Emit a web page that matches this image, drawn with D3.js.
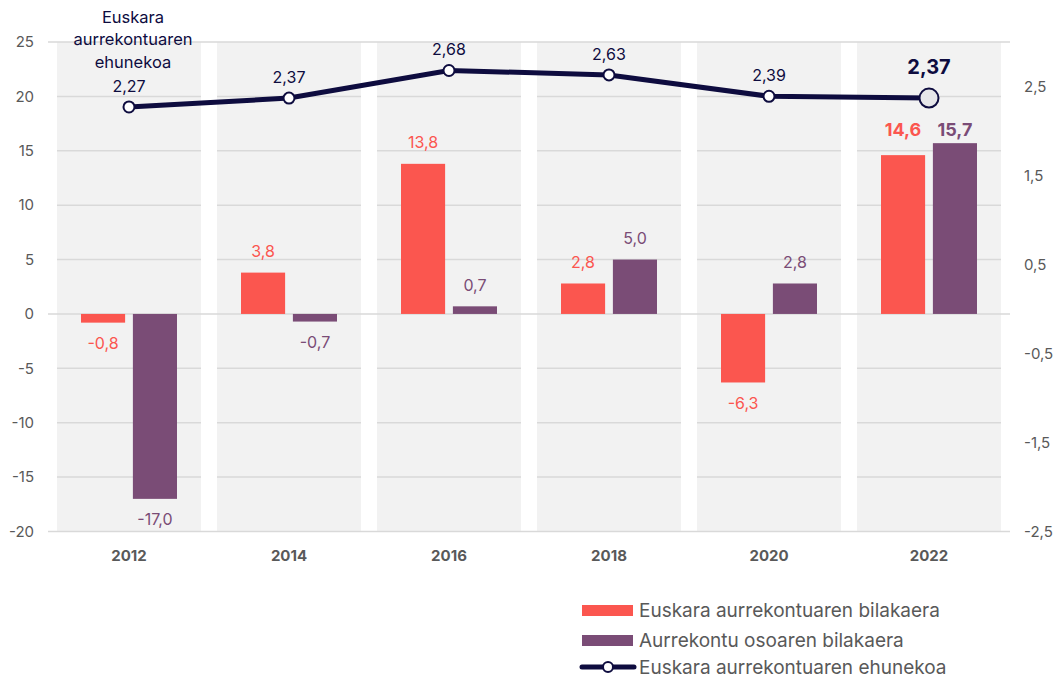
<html>
<head>
<meta charset="utf-8">
<title>Euskara aurrekontua</title>
<script src="https://cdn.jsdelivr.net/npm/d3@7"></script>
<style>
  body { margin: 0; background: #fff; }
  text { font-family: "Inter", "Noto Sans", sans-serif; }
</style>
</head>
<body>
<svg id="chart" width="1056" height="679"></svg>
<script>

// data
var years = ["2012", "2014", "2016", "2018", "2020", "2022"]
var euskaraGrowth = [-0.8, 3.8, 13.8, 2.8, -6.3, 14.6]
var totalGrowth = [-17.0, -0.7, 0.7, 5.0, 2.8, 15.7]
var euskaraShare = [2.27, 2.37, 2.68, 2.63, 2.39, 2.37]
var leftTicks = [25, 20, 15, 10, 5, 0, -5, -10, -15, -20]
var rightTicks = [2.5, 1.5, 0.5, -0.5, -1.5, -2.5]
var seriesNames = ["Euskara aurrekontuaren bilakaera", "Aurrekontu osoaren bilakaera", "Euskara aurrekontuaren ehunekoa"]
var noteLines = ["Euskara", "aurrekontuaren", "ehunekoa"]

var red = "#fb564f", purple = "#7a4c76", navy = "#0e0c3f", grey = "#595959"

var svg = d3.select("#chart")
var fmt = function (v, d) { return v.toFixed(d).replace(".", ",") }

// scales
var x = d3.scaleBand().domain(years).range([49, 1009]).paddingInner(0.1).paddingOuter(0.05)
var sub = d3.scaleBand().domain(["eus", "tot"]).range([24, 120]).paddingInner(0.15)
var y = d3.scaleLinear().domain([-20, 25]).range([531.5, 42])
var y2 = d3.scaleLinear().domain([-2.5, 3]).range([531.5, 42])

// grey column bands
svg.append("g").selectAll("rect").data(years).enter().append("rect")
  .attr("x", function (d) { return x(d) })
  .attr("y", y(25))
  .attr("width", x.bandwidth())
  .attr("height", y(-20) - y(25))
  .attr("fill", "#f2f2f2")

// gridlines inside bands, full lines for 25, 0, -20
var grid = svg.append("g")
leftTicks.forEach(function (t) {
  if (t === 25 || t === 0 || t === -20) {
    grid.append("line").attr("x1", 48).attr("x2", 1010)
      .attr("y1", y(t)).attr("y2", y(t))
      .attr("stroke", "#d9d9d9").attr("stroke-width", 1.5)
  } else {
    years.forEach(function (yr) {
      grid.append("line").attr("x1", x(yr)).attr("x2", x(yr) + x.bandwidth())
        .attr("y1", y(t)).attr("y2", y(t))
        .attr("stroke", "#d9d9d9").attr("stroke-width", 1.5)
    })
  }
})

// left axis
var yAxis = d3.axisLeft(y).tickValues(leftTicks).tickSize(0).tickPadding(0)
  .tickFormat(function (d) { return d })
svg.append("g").attr("transform", "translate(34,0)").call(yAxis)
  .call(function (g) { g.select(".domain").remove() })
  .selectAll("text").attr("fill", grey).attr("font-size", 15)

// right axis
var y2Axis = d3.axisRight(y2).tickValues(rightTicks).tickSize(0).tickPadding(0)
  .tickFormat(function (d) { return fmt(d, 1) })
svg.append("g").attr("transform", "translate(1024,0)").call(y2Axis)
  .call(function (g) { g.select(".domain").remove() })
  .selectAll("text").attr("fill", grey).attr("font-size", 15)

// x axis
var xAxis = d3.axisBottom(x).tickSize(0).tickPadding(0)
svg.append("g").attr("transform", "translate(0,550)").call(xAxis)
  .call(function (g) { g.select(".domain").remove() })
  .selectAll("text").attr("fill", grey).attr("font-size", 15).attr("font-weight", "bold")

// bars
var series = [
  { key: "eus", values: euskaraGrowth, color: red },
  { key: "tot", values: totalGrowth, color: purple }
]
series.forEach(function (s) {
  var g = svg.append("g")
  g.selectAll("rect").data(s.values).enter().append("rect")
    .attr("x", function (d, i) { return x(years[i]) + sub(s.key) })
    .attr("y", function (d) { return y(Math.max(0, d)) })
    .attr("width", sub.bandwidth())
    .attr("height", function (d) { return Math.abs(y(d) - y(0)) })
    .attr("fill", s.color)
  g.selectAll("text").data(s.values).enter().append("text")
    .attr("x", function (d, i) { return x(years[i]) + sub(s.key) + sub.bandwidth() / 2 })
    .attr("y", function (d, i) {
      if (i === years.length - 1) return 130
      return d >= 0 ? y(d) - 21 : y(d) + 21
    })
    .attr("dy", "0.35em")
    .attr("text-anchor", "middle")
    .attr("fill", s.color)
    .attr("font-size", function (d, i) { return i === years.length - 1 ? 18 : 16 })
    .attr("font-weight", function (d, i) { return i === years.length - 1 ? "bold" : "normal" })
    .text(function (d) { return fmt(d, 1) })
})

// share line
var cx = function (i) { return x(years[i]) + x.bandwidth() / 2 }
var line = d3.line().x(function (d, i) { return cx(i) }).y(function (d) { return y2(d) })
svg.append("path").datum(euskaraShare)
  .attr("d", line).attr("fill", "none").attr("stroke", navy).attr("stroke-width", 5)

var last = euskaraShare.length - 1
svg.append("g").selectAll("circle").data(euskaraShare).enter().append("circle")
  .attr("cx", function (d, i) { return cx(i) })
  .attr("cy", function (d) { return y2(d) })
  .attr("r", function (d, i) { return i === last ? 9.5 : 5.5 })
  .attr("fill", function (d, i) { return i === last ? "#e6e6e9" : "#fff" })
  .attr("stroke", navy).attr("stroke-width", 2)

svg.append("g").selectAll("text").data(euskaraShare).enter().append("text")
  .attr("x", function (d, i) { return cx(i) })
  .attr("y", function (d, i) { return y2(d) - (i === last ? 31 : 21) })
  .attr("dy", "0.35em")
  .attr("text-anchor", "middle")
  .attr("fill", navy)
  .attr("font-size", function (d, i) { return i === last ? 20 : 16 })
  .attr("font-weight", function (d, i) { return i === last ? "bold" : "normal" })
  .text(function (d) { return fmt(d, 2) })

// note over the first column
svg.append("g").selectAll("text").data(noteLines).enter().append("text")
  .attr("x", cx(0) + 4)
  .attr("y", function (d, i) { return 17 + i * 22.5 })
  .attr("dy", "0.35em")
  .attr("text-anchor", "middle")
  .attr("fill", navy)
  .attr("font-size", 16.5)
  .text(String)

// legend
var legend = svg.append("g").attr("transform", "translate(582,0)")
var legendY = [610, 640, 667]
legend.append("rect").attr("x", 0).attr("y", legendY[0] - 5).attr("width", 51).attr("height", 11).attr("fill", red)
legend.append("rect").attr("x", 0).attr("y", legendY[1] - 5).attr("width", 51).attr("height", 11).attr("fill", purple)
legend.append("line").attr("x1", 0).attr("x2", 52).attr("y1", legendY[2]).attr("y2", legendY[2])
  .attr("stroke", navy).attr("stroke-width", 5).attr("stroke-linecap", "round")
legend.append("circle").attr("cx", 26).attr("cy", legendY[2]).attr("r", 5)
  .attr("fill", "#fff").attr("stroke", navy).attr("stroke-width", 2)
legend.selectAll("text.lab").data(seriesNames).enter().append("text")
  .attr("class", "lab")
  .attr("x", 57)
  .attr("y", function (d, i) { return legendY[i] })
  .attr("dy", "0.35em")
  .attr("fill", grey)
  .attr("font-size", 19)
  .text(String)

</script>
</body>
</html>
